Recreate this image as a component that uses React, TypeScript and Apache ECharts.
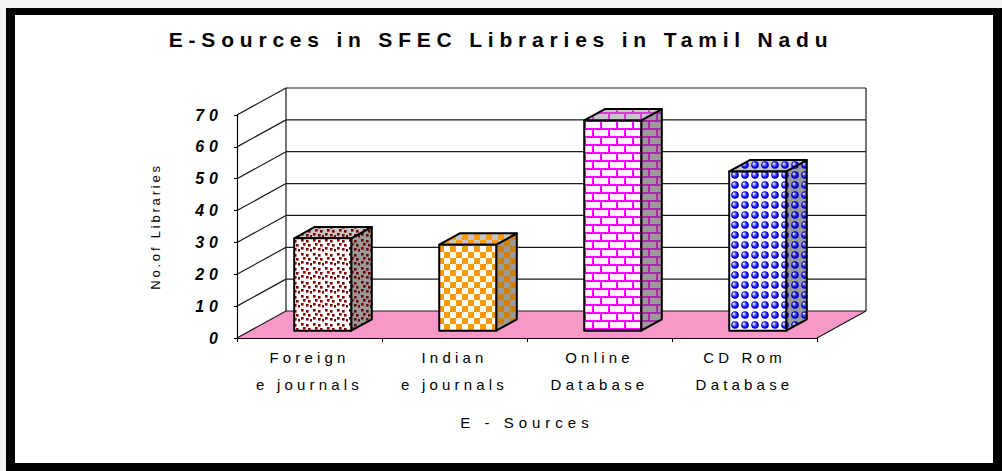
import React, { useEffect, useRef } from 'react';
import * as echarts from 'echarts';

const categories = ['Foreign\ne journals', 'Indian\ne journals', 'Online\nDatabase', 'CD Rom\nDatabase'];
const libraryCounts = [29, 27, 66, 50];
const yTicks = [0, 10, 20, 30, 40, 50, 60, 70];
const yMin = 0;
const yMax = 70;
const yStep = 10;
const titleText = 'E-Sources in SFEC Libraries in Tamil Nadu';
const xAxisName = 'E - Sources';
const yAxisName = 'No.of Libraries';

// pseudo-3D geometry (pixels)
const DX = 49;
const DY = -27;
const F1 = 0.27;
const F2 = 0.69;
const BAR_W = 57;
const FONT = '"Liberation Sans", Arial, Helvetica, sans-serif';

type Pat = { image: HTMLCanvasElement; repeat: string; imageWidth: number; imageHeight: number };

function tile(w: number, h: number, bg: string, draw: (ctx: CanvasRenderingContext2D) => void): Pat {
  const c = document.createElement('canvas');
  c.width = w;
  c.height = h;
  const ctx = c.getContext('2d') as CanvasRenderingContext2D;
  ctx.fillStyle = bg;
  ctx.fillRect(0, 0, w, h);
  draw(ctx);
  return { image: c, repeat: 'repeat', imageWidth: w, imageHeight: h };
}

const dotPts = [[1, 1], [6, 2], [3, 5], [8, 6], [1, 9], [6, 10], [10, 11]];
const confetti = (bg: string, fg: string) =>
  tile(12, 14, bg, (ctx) => {
    ctx.fillStyle = fg;
    dotPts.forEach(([x, y]) => ctx.fillRect(x, y, 2.6, 2.6));
  });
const checker = (bg: string, fg: string) =>
  tile(12, 12, bg, (ctx) => {
    ctx.fillStyle = fg;
    ctx.fillRect(0, 0, 6, 6);
    ctx.fillRect(6, 6, 6, 6);
  });
const brick = (bg: string, fg: string) =>
  tile(16, 16, bg, (ctx) => {
    ctx.fillStyle = fg;
    ctx.fillRect(0, 0, 16, 2);
    ctx.fillRect(0, 8, 16, 2);
    ctx.fillRect(0, 0, 2, 8);
    ctx.fillRect(8, 8, 2, 8);
  });
const spheres = (bg: string, fg: string, hi: string) =>
  tile(10, 10, bg, (ctx) => {
    const g = ctx.createRadialGradient(3.6, 3.6, 0.2, 5, 5, 4);
    g.addColorStop(0, '#ffffff');
    g.addColorStop(0.3, hi);
    g.addColorStop(0.7, fg);
    g.addColorStop(1, '#0000a0');
    ctx.fillStyle = g;
    ctx.beginPath();
    ctx.arc(5, 5, 3.8, 0, Math.PI * 2);
    ctx.fill();
  });

function letterSpacingFor(t: string): number {
  if (t === titleText) return 5.8;
  if (t === yAxisName) return 2.8;
  if (t === xAxisName) return 5;
  if (/^\d+$/.test(t)) return 5;
  return 4.2;
}

export default function App() {
  const ref = useRef<HTMLDivElement>(null);

  useEffect(() => {
    if (!ref.current) return;
    const el = ref.current;
    const chart = echarts.init(el, undefined, { renderer: 'svg' });

    const FRONT = '#ffffff';
    const SIDE = '#9a9a9a';
    const TOP = '#c6c6c6';
    const faces = [
      { front: confetti(FRONT, '#800000'), side: confetti(SIDE, '#700000'), top: confetti(TOP, '#800000') },
      { front: checker(FRONT, '#ff9900'), side: checker(SIDE, '#d08000'), top: checker(TOP, '#ff9900') },
      { front: brick(FRONT, '#ff00ff'), side: brick(SIDE, '#a030a0'), top: brick(TOP, '#cc44cc') },
      { front: spheres(FRONT, '#0000ff', '#8080ff'), side: spheres(SIDE, '#0000d0', '#6060e0'), top: spheres(TOP, '#0000ff', '#8080ff') },
    ];

    const lineStyle = { stroke: '#1a1a1a', lineWidth: 1.2 };

    const option: any = {
      animation: false,
      backgroundColor: 'transparent',
      graphic: [
        {
          type: 'text',
          x: 501,
          y: 39,
          style: {
            text: titleText,
            align: 'center',
            verticalAlign: 'middle',
            fontSize: 21,
            fontWeight: 'bold',
            fontFamily: FONT,
            fill: '#000',
          },
        },
      ],
      grid: {
        left: 237,
        right: 185,
        top: 115,
        bottom: 133,
        containLabel: false,
        outerBoundsMode: 'none',
      },
      xAxis: {
        type: 'category',
        data: categories,
        z: 10,
        axisLine: { show: true, lineStyle: { color: '#000', width: 1.2 } },
        axisTick: { show: true, length: 4, lineStyle: { color: '#000' } },
        axisLabel: {
          color: '#000',
          fontSize: 15,
          fontFamily: FONT,
          lineHeight: 27,
          margin: 6,
          interval: 0,
        },
        splitLine: { show: false },
        name: xAxisName,
        nameLocation: 'middle',
        nameGap: 77,
        nameTextStyle: { color: '#000', fontSize: 15, fontFamily: FONT },
      },
      yAxis: {
        type: 'value',
        min: yMin,
        max: yMax,
        interval: yStep,
        z: 10,
        axisLine: { show: true, lineStyle: { color: '#000', width: 1.2 } },
        axisTick: { show: true, length: 3, lineStyle: { color: '#000' } },
        axisLabel: {
          color: '#000',
          fontSize: 16,
          fontStyle: 'italic',
          fontWeight: 'bold',
          fontFamily: FONT,
          margin: 14,
        },
        splitLine: { show: false },
        name: yAxisName,
        nameLocation: 'middle',
        nameRotate: 90,
        nameGap: 75,
        nameTextStyle: { color: '#000', fontSize: 13, fontFamily: FONT },
      },
      series: [
        {
          type: 'custom',
          name: 'walls',
          z: 1,
          silent: true,
          data: yTicks.map((v) => [0, v]),
          encode: { x: 0, y: 1 },
          renderItem: (params: any, api: any) => {
            const v = api.value(1);
            const cs = params.coordSys;
            const left = cs.x;
            const right = cs.x + cs.width;
            const y = api.coord([0, v])[1];
            const children: any[] = [];
            if (v === yMin) {
              const yTop = api.coord([0, yMax])[1];
              children.push({
                type: 'polygon',
                shape: { points: [[left, y], [right, y], [right + DX, y + DY], [left + DX, y + DY]] },
                style: { fill: '#f799c8' },
              });
              children.push({
                type: 'line',
                shape: { x1: left + DX, y1: y + DY, x2: left + DX, y2: yTop + DY },
                style: lineStyle,
              });
              children.push({
                type: 'line',
                shape: { x1: right + DX, y1: y + DY, x2: right + DX, y2: yTop + DY },
                style: lineStyle,
              });
              children.push({
                type: 'line',
                shape: { x1: right, y1: y, x2: right + DX, y2: y + DY },
                style: lineStyle,
              });
            }
            children.push({
              type: 'line',
              shape: { x1: left, y1: y, x2: left + DX, y2: y + DY },
              style: lineStyle,
            });
            children.push({
              type: 'line',
              shape: { x1: left + DX, y1: y + DY, x2: right + DX, y2: y + DY },
              style: lineStyle,
            });
            return { type: 'group', children };
          },
        },
        {
          type: 'custom',
          name: 'No.of Libraries',
          z: 3,
          silent: true,
          data: libraryCounts.map((v, i) => [i, v]),
          encode: { x: 0, y: 1 },
          renderItem: (params: any, api: any) => {
            const idx = api.value(0);
            const val = api.value(1);
            const base = api.coord([idx, 0]);
            const top = api.coord([idx, val]);
            const fx = DX * F1;
            const fy = DY * F1;
            const sx = DX * (F2 - F1);
            const sy = DY * (F2 - F1);
            const x0 = base[0] - BAR_W / 2 + fx;
            const x1 = x0 + BAR_W;
            const yb = base[1] + fy;
            const yt = top[1] + fy;
            const f = faces[params.dataIndex];
            const edge = { stroke: '#000', lineWidth: 2, lineJoin: 'round' };
            return {
              type: 'group',
              children: [
                {
                  type: 'polygon',
                  shape: { points: [[x1, yt], [x1 + sx, yt + sy], [x1 + sx, yb + sy], [x1, yb]] },
                  style: { fill: f.side, ...edge },
                },
                {
                  type: 'polygon',
                  shape: { points: [[x0, yt], [x0 + sx, yt + sy], [x1 + sx, yt + sy], [x1, yt]] },
                  style: { fill: f.top, ...edge },
                },
                {
                  type: 'rect',
                  shape: { x: x0, y: yt, width: BAR_W, height: yb - yt },
                  style: { fill: f.front, ...edge },
                },
              ],
            };
          },
        },
      ],
    };

    chart.setOption(option);

    const apply = () => {
      el.querySelectorAll('text').forEach((n) => {
        const t = n.textContent || '';
        n.setAttribute('letter-spacing', String(letterSpacingFor(t)));
      });
    };
    apply();
    chart.on('finished', apply);

    return () => {
      chart.dispose();
    };
  }, []);

  return (
    <div style={{ position: 'absolute', left: 0, top: 0, width: 1002, height: 471, background: '#f3f3f3', overflow: 'hidden' }}>
      <div style={{ position: 'absolute', left: 6, top: 8, width: 996, height: 463, background: '#000' }} />
      <div style={{ position: 'absolute', left: 15, top: 15, width: 978, height: 448, background: '#fff' }} />
      <div ref={ref} style={{ position: 'absolute', left: 0, top: 0, width: 1002, height: 471 }} />
    </div>
  );
}
